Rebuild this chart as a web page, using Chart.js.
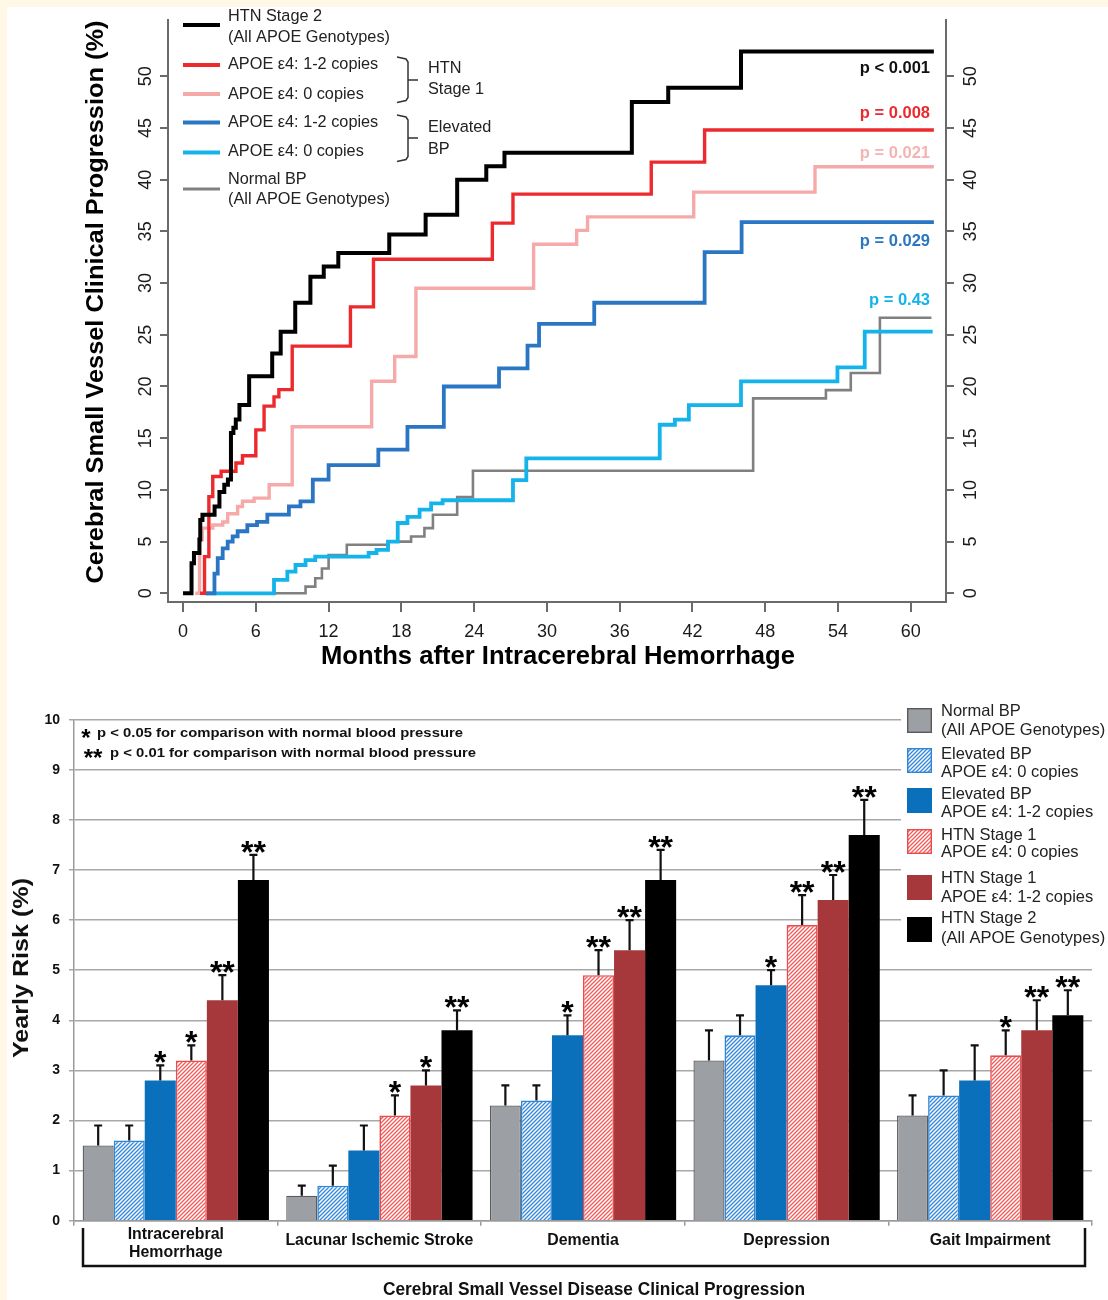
<!DOCTYPE html>
<html><head><meta charset="utf-8">
<script src="https://cdn.jsdelivr.net/npm/chart.js@4.4.1/dist/chart.umd.min.js"></script>
<style>
html,body{margin:0;padding:0;background:#FFF8E6;width:1108px;height:1300px;overflow:hidden;}
#wrap{position:absolute;left:7px;top:7px;width:1101px;height:1293px;background:#fff;}
#c1{position:absolute;left:0;top:0;width:1108px;height:680px;}
#c2{position:absolute;left:0;top:680px;width:1108px;height:620px;}
</style></head><body>
<div id="wrap"></div>
<canvas id="c1" width="1108" height="680"></canvas>
<canvas id="c2" width="1108" height="620"></canvas>
<script>
// ---------------- DATA: Kaplan-Meier curves (months, cumulative %) ----------------
const monthTicks = [0, 6, 12, 18, 24, 30, 36, 42, 48, 54, 60];
const pctTicks = [0, 5, 10, 15, 20, 25, 30, 35, 40, 45, 50];

const htn2Months = [0, 0.7, 0.9, 1.35, 1.42, 1.6, 2.6, 3.0, 3.4, 3.7, 3.95, 4.15, 4.35, 4.65, 5.45, 7.35, 8.05, 9.25, 10.5, 11.6, 12.8, 17.0, 20.0, 22.6, 25.0, 26.5, 37.0, 40.0, 46.0, 61.9];
const htn2Pct    = [0, 2.9, 3.9, 5.2, 7.1, 7.6, 8.4, 9.8, 10.5, 11.0, 15.5, 16.0, 16.8, 18.2, 21.0, 23.2, 25.3, 28.1, 30.6, 31.6, 32.9, 34.7, 36.6, 40.0, 41.3, 42.6, 47.5, 48.9, 52.4, 52.4];

const htn1E4Months = [1.4, 1.77, 2.13, 2.45, 3.14, 4.36, 4.9, 6.0, 6.68, 7.5, 7.9, 9.0, 13.8, 15.7, 25.5, 27.2, 38.6, 43.0, 61.9];
const htn1E4Pct    = [0, 3.55, 9.35, 11.3, 11.8, 12.6, 13.3, 15.8, 18.1, 19.0, 19.7, 23.9, 27.7, 32.3, 35.8, 38.6, 41.7, 44.8, 44.8];

const htn1NoE4Months = [1.0, 1.36, 1.58, 2.45, 3.27, 3.68, 4.5, 4.9, 5.86, 7.1, 9.0, 15.55, 17.45, 19.2, 28.9, 32.45, 33.35, 42.1, 52.1, 61.9];
const htn1NoE4Pct    = [0, 5.2, 6.3, 6.6, 6.9, 7.7, 8.4, 8.9, 9.2, 10.5, 16.1, 20.5, 22.9, 29.5, 33.75, 35.1, 36.4, 38.8, 41.25, 41.25];

const elevE4Months = [1.8, 2.59, 2.86, 3.27, 3.68, 4.09, 4.5, 5.3, 6.1, 6.95, 8.73, 9.68, 10.7, 12.0, 16.1, 18.5, 21.5, 26.05, 28.4, 29.35, 33.9, 43.0, 46.05, 61.9];
const elevE4Pct    = [0, 1.9, 3.4, 4.35, 5.0, 5.5, 6.0, 6.6, 6.9, 7.6, 8.4, 8.9, 11.0, 12.4, 13.9, 16.1, 20.0, 21.75, 23.95, 26.05, 28.1, 33.0, 35.9, 35.9];

const elevNoE4Months = [1.9, 7.5, 8.6, 9.27, 10.1, 10.9, 15.3, 15.95, 16.9, 17.7, 18.5, 19.5, 20.45, 21.4, 27.2, 28.3, 39.3, 40.55, 41.7, 46.0, 53.95, 56.2, 61.8];
const elevNoE4Pct    = [0, 1.3, 2.1, 2.74, 3.2, 3.55, 3.9, 4.2, 5.0, 6.8, 7.4, 8.1, 8.7, 9.0, 10.95, 13.05, 16.3, 16.8, 18.2, 20.5, 21.85, 25.3, 25.3];

const normalMonths = [2.0, 10.1, 10.9, 11.45, 12.0, 13.5, 16.9, 18.8, 19.9, 20.6, 22.6, 23.9, 47.0, 53.0, 55.05, 57.45, 61.7];
const normalPct    = [0, 0.65, 1.45, 2.4, 3.7, 4.7, 5.0, 5.5, 6.3, 7.6, 9.3, 11.85, 18.85, 19.65, 21.3, 26.65, 26.65];

const curveLabels = [
  ['HTN Stage 2', '(All APOE Genotypes)'],
  ['APOE \u03b54: 1-2 copies'],
  ['APOE \u03b54: 0 copies'],
  ['APOE \u03b54: 1-2 copies'],
  ['APOE \u03b54: 0 copies'],
  ['Normal BP', '(All APOE Genotypes)']
];
const curvePValues = ['p < 0.001', 'p = 0.008', 'p = 0.021', 'p = 0.029', 'p = 0.43'];

// ---------------- DATA: yearly risk bars ----------------
const categories = [['Intracerebral', 'Hemorrhage'], 'Lacunar Ischemic Stroke', 'Dementia', 'Depression', 'Gait Impairment'];
const riskTicks = [0, 1, 2, 3, 4, 5, 6, 7, 8, 9, 10];

const riskNormal    = [1.5, 0.5, 2.3, 3.2, 2.1];
const riskNormalErr = [1.9, 0.7, 2.7, 3.8, 2.5];
const riskElevNoE4    = [1.6, 0.7, 2.4, 3.7, 2.5];
const riskElevNoE4Err = [1.9, 1.1, 2.7, 4.1, 3.0];
const riskElevE4    = [2.8, 1.4, 3.7, 4.7, 2.8];
const riskElevE4Err = [3.1, 1.9, 4.1, 5.0, 3.5];
const riskHtn1NoE4    = [3.2, 2.1, 4.9, 5.9, 3.3];
const riskHtn1NoE4Err = [3.5, 2.5, 5.4, 6.5, 3.8];
const riskHtn1E4    = [4.4, 2.7, 5.4, 6.4, 3.8];
const riskHtn1E4Err = [4.9, 3.0, 6.0, 6.9, 4.4];
const riskHtn2    = [6.8, 3.8, 6.8, 7.7, 4.1];
const riskHtn2Err = [7.3, 4.2, 7.4, 8.4, 4.6];

const sigNormal    = ['', '', '', '', ''];
const sigElevNoE4  = ['', '', '', '', ''];
const sigElevE4    = ['*', '', '*', '*', ''];
const sigHtn1NoE4  = ['*', '*', '**', '**', '*'];
const sigHtn1E4    = ['**', '*', '**', '**', '**'];
const sigHtn2      = ['**', '**', '**', '**', '**'];

const barLabels = [
  ['Normal BP', '(All APOE Genotypes)'],
  ['Elevated BP', 'APOE \u03b54: 0 copies'],
  ['Elevated BP', 'APOE \u03b54: 1-2 copies'],
  ['HTN Stage 1', 'APOE \u03b54: 0 copies'],
  ['HTN Stage 1', 'APOE \u03b54: 1-2 copies'],
  ['HTN Stage 2', '(All APOE Genotypes)']
];
const sigNotes = ['p < 0.05 for comparison with normal blood pressure', 'p < 0.01 for comparison with normal blood pressure'];

// ---------------- helpers ----------------
const FONT = "'Liberation Sans', Arial, sans-serif";
Chart.defaults.font.family = FONT;

function txt(ctx, s, x, y, o) {
  ctx.save();
  ctx.font = o.font;
  ctx.fillStyle = o.color || '#000';
  ctx.textBaseline = o.baseline || 'middle';
  ctx.textAlign = 'left';
  const w = ctx.measureText(s).width;
  const sx = o.width ? o.width / w : (o.sx || 1);
  ctx.translate(x, y);
  if (o.rot) ctx.rotate(o.rot);
  ctx.scale(sx, 1);
  const ax = o.align === 'center' ? -w / 2 : (o.align === 'right' ? -w : 0);
  ctx.fillText(s, ax, 0);
  ctx.restore();
  return w * sx;
}
function pts(xs, ys) { return xs.map((x, i) => ({ x: x, y: ys[i] })); }
function fixTicks(arr) { return s => { s.ticks = arr.map(v => ({ value: v })); }; }

// ---------------- TOP CHART ----------------
const curveColors = ['#000000', '#EC2A2E', '#F5AAA9', '#2A76C3', '#14B3EA', '#808080'];
const curveWidths = [4, 3.4, 3.4, 3.8, 3.8, 2.6];
const curveSeries = [
  pts(htn2Months, htn2Pct), pts(htn1E4Months, htn1E4Pct), pts(htn1NoE4Months, htn1NoE4Pct),
  pts(elevE4Months, elevE4Pct), pts(elevNoE4Months, elevNoE4Pct), pts(normalMonths, normalPct)
];

const topDecor = {
  id: 'topDecor',
  afterDraw(chart) {
    const ctx = chart.ctx, yL = chart.scales.y, yR = chart.scales.y2, a = chart.chartArea;
    pctTicks.forEach(v => {
      txt(ctx, String(v), a.left - 22, yL.getPixelForValue(v), { font: '18px ' + FONT, align: 'center', rot: -Math.PI / 2, color: '#1a1a1a' });
      txt(ctx, String(v), a.right + 25, yR.getPixelForValue(v), { font: '18px ' + FONT, align: 'center', rot: -Math.PI / 2, color: '#1a1a1a' });
    });
    txt(ctx, 'Cerebral Small Vessel Clinical Progression (%)', 96, 302, { font: 'bold 24px ' + FONT, align: 'center', rot: -Math.PI / 2, width: 563 });
    txt(ctx, 'Months after Intracerebral Hemorrhage', 558, 657, { font: 'bold 25px ' + FONT, align: 'center', width: 474 });

    // legend
    const lineY = [25, 65, 94, 122.5, 152.5, 189];
    const textY = [[17, 37.5], [65], [94.5], [122.5], [152], [179.5, 200]];
    curveLabels.forEach((lab, i) => {
      ctx.save(); ctx.strokeStyle = curveColors[i]; ctx.lineWidth = i === 5 ? 3 : 4;
      ctx.beginPath(); ctx.moveTo(183, lineY[i]); ctx.lineTo(220, lineY[i]); ctx.stroke(); ctx.restore();
      lab.forEach((s, k) => txt(ctx, s, 228, textY[i][k], { font: '16.3px ' + FONT, color: '#222' }));
    });
    ctx.save(); ctx.strokeStyle = '#333'; ctx.lineWidth = 1.5;
    [[57, 80, 102.5], [115, 138, 161.5]].forEach(b => {
      ctx.beginPath(); ctx.moveTo(397, b[0]); ctx.lineTo(406, b[0] + 2); ctx.lineTo(408, b[0] + 5);
      ctx.lineTo(408, b[2] - 5); ctx.lineTo(406, b[2] - 2); ctx.lineTo(397, b[2]);
      ctx.moveTo(408, b[1]); ctx.lineTo(418, b[1]); ctx.stroke();
    });
    ctx.restore();
    txt(ctx, 'HTN', 428, 68.5, { font: '16.3px ' + FONT, color: '#222' });
    txt(ctx, 'Stage 1', 428, 89.5, { font: '16.3px ' + FONT, color: '#222' });
    txt(ctx, 'Elevated', 428, 127.5, { font: '16.3px ' + FONT, color: '#222' });
    txt(ctx, 'BP', 428, 149.5, { font: '16.3px ' + FONT, color: '#222' });

    const pY = [68.5, 113.5, 153.5, 241.5, 300];
    const pC = ['#111', '#EC2A2E', '#F5B3B2', '#2A76C3', '#14B3EA'];
    curvePValues.forEach((s, i) => txt(ctx, s, 930, pY[i], { font: 'bold 16.5px ' + FONT, align: 'right', color: pC[i] }));
  }
};

new Chart(document.getElementById('c1'), {
  type: 'line',
  data: {
    datasets: curveSeries.map((d, i) => ({
      data: d, borderColor: curveColors[i], borderWidth: curveWidths[i], stepped: 'before',
      pointRadius: 0, fill: false, borderJoinStyle: 'miter', borderCapStyle: 'butt'
    }))
  },
  options: {
    responsive: false, animation: false, events: [],
    layout: { padding: { top: 20, left: 0, right: 0, bottom: 0 } },
    plugins: { legend: { display: false }, tooltip: { enabled: false } },
    scales: {
      x: {
        type: 'linear', min: -1.24, max: 62.9, position: 'bottom',
        afterBuildTicks: fixTicks(monthTicks), afterFit: s => { s.height = 78; },
        grid: { drawOnChartArea: false, tickLength: 10, color: '#6a6a6a', lineWidth: 2 },
        border: { display: true, color: '#6a6a6a', width: 2 },
        ticks: { font: { size: 18, family: FONT }, color: '#1a1a1a', padding: 9, maxRotation: 0, autoSkip: false }
      },
      y: {
        type: 'linear', min: -0.84, max: 55.44, position: 'left',
        afterBuildTicks: fixTicks(pctTicks), afterFit: s => { s.width = 168; },
        grid: { drawOnChartArea: false, tickLength: 8, color: '#6a6a6a', lineWidth: 2 },
        border: { display: true, color: '#6a6a6a', width: 2 },
        ticks: { display: false }
      },
      y2: {
        type: 'linear', min: -0.84, max: 55.44, position: 'right',
        afterBuildTicks: fixTicks(pctTicks), afterFit: s => { s.width = 162; },
        grid: { drawOnChartArea: false, tickLength: 8, color: '#6a6a6a', lineWidth: 2 },
        border: { display: true, color: '#6a6a6a', width: 2 },
        ticks: { display: false }
      }
    }
  },
  plugins: [topDecor]
});

// ---------------- BOTTOM CHART ----------------
const c2 = document.getElementById('c2');
const c2ctx = c2.getContext('2d');
function hatch(color) {
  const t = document.createElement('canvas'); t.width = 4; t.height = 4;
  const g = t.getContext('2d');
  g.fillStyle = '#fff'; g.fillRect(0, 0, 4, 4);
  g.strokeStyle = color; g.lineWidth = 1.35;
  g.beginPath();
  g.moveTo(-1, 5); g.lineTo(5, -1);
  g.moveTo(-1, 1); g.lineTo(1, -1);
  g.moveTo(3, 5); g.lineTo(5, 3);
  g.stroke();
  return c2ctx.createPattern(t, 'repeat');
}
const blueHatch = hatch('#3489DA');
const pinkHatch = hatch('#EE5E5E');

const barFills = ['#9C9FA3', blueHatch, '#0B70BC', pinkHatch, '#A6373A', '#000000'];
const barBorders = ['#5a5a5a', '#2F86D6', '#0B70BC', '#EA4B4B', '#A6373A', '#000000'];
const barBorderW = [1.3, 1.6, 0, 1.6, 0, 0];
const barValues = [riskNormal, riskElevNoE4, riskElevE4, riskHtn1NoE4, riskHtn1E4, riskHtn2];
const barErrors = [riskNormalErr, riskElevNoE4Err, riskElevE4Err, riskHtn1NoE4Err, riskHtn1E4Err, riskHtn2Err];
const barSigs = [sigNormal, sigElevNoE4, sigElevE4, sigHtn1NoE4, sigHtn1E4, sigHtn2];

function drawStars(ctx, s, cx, cy, size) {
  ctx.save();
  ctx.font = 'bold ' + size + 'px ' + FONT;
  ctx.textAlign = 'center'; ctx.textBaseline = 'alphabetic'; ctx.fillStyle = '#000';
  const m = ctx.measureText('*');
  const base = cy + (m.actualBoundingBoxAscent - m.actualBoundingBoxDescent) / 2;
  ctx.fillText(s, cx, base);
  ctx.restore();
}

const barDecor = {
  id: 'barDecor',
  afterDatasetsDraw(chart) {
    const ctx = chart.ctx, y = chart.scales.y;
    chart.data.datasets.forEach((ds, i) => {
      chart.getDatasetMeta(i).data.forEach((bar, j) => {
        const top = y.getPixelForValue(ds.errTop[j]);
        ctx.save(); ctx.strokeStyle = '#111'; ctx.lineWidth = 2.2;
        ctx.beginPath(); ctx.moveTo(bar.x, bar.y); ctx.lineTo(bar.x, top);
        ctx.moveTo(bar.x - 4, top); ctx.lineTo(bar.x + 4, top); ctx.stroke(); ctx.restore();
        if (ds.sig[j]) drawStars(ctx, ds.sig[j], bar.x, top - 8, 32);
      });
    });
  },
  afterDraw(chart) {
    const ctx = chart.ctx, x = chart.scales.x;
    // category labels
    ctx.save(); ctx.font = 'bold 17px ' + FONT;
    const sx = 188 / ctx.measureText('Lacunar Ischemic Stroke').width; ctx.restore();
    categories.forEach((c, i) => {
      const px = x.getPixelForValue(i);
      if (Array.isArray(c)) {
        txt(ctx, c[0], px, 554, { font: 'bold 17px ' + FONT, align: 'center', sx: sx, color: '#111' });
        txt(ctx, c[1], px, 572.5, { font: 'bold 17px ' + FONT, align: 'center', sx: sx, color: '#111' });
      } else {
        txt(ctx, c, px, 560, { font: 'bold 17px ' + FONT, align: 'center', sx: sx, color: '#111' });
      }
    });
    // bracket
    ctx.save(); ctx.strokeStyle = '#111'; ctx.lineWidth = 2.5;
    ctx.beginPath(); ctx.moveTo(83, 548); ctx.lineTo(83, 586); ctx.lineTo(1085, 586); ctx.lineTo(1085, 548); ctx.stroke();
    ctx.restore();
    txt(ctx, 'Cerebral Small Vessel Disease Clinical Progression', 594, 610, { font: 'bold 18px ' + FONT, align: 'center', width: 422, color: '#111' });
    txt(ctx, 'Yearly Risk (%)', 22, 288, { font: 'bold 22px ' + FONT, align: 'center', rot: -Math.PI / 2, width: 180, color: '#111' });

    // significance notes
    drawStars(ctx, '*', 86, 53.5, 24);
    txt(ctx, sigNotes[0], 97, 53.5, { font: 'bold 13px ' + FONT, width: 366, color: '#111' });
    drawStars(ctx, '**', 93, 73.5, 24);
    txt(ctx, sigNotes[1], 110, 73.5, { font: 'bold 13px ' + FONT, width: 366, color: '#111' });

    // legend box
    ctx.save(); ctx.fillStyle = '#fff'; ctx.fillRect(901, 18, 207, 252); ctx.restore();
    const sqTop = [28, 68, 108, 149, 195, 237];
    const tY = [[31, 50], [74, 92.5], [114, 132], [155, 172], [198, 217], [238, 258]];
    barLabels.forEach((lab, i) => {
      ctx.save();
      ctx.fillStyle = barFills[i];
      ctx.fillRect(907, sqTop[i], 25, 25);
      if (barBorderW[i] > 0) { ctx.strokeStyle = barBorders[i]; ctx.lineWidth = 1.4; ctx.strokeRect(907.7, sqTop[i] + 0.7, 23.6, 23.6); }
      ctx.restore();
      lab.forEach((s, k) => txt(ctx, s, 941, tY[i][k], { font: '16.5px ' + FONT, color: '#222' }));
    });
  }
};

new Chart(c2, {
  type: 'bar',
  data: {
    labels: categories,
    datasets: barValues.map((v, i) => ({
      data: v, errTop: barErrors[i], sig: barSigs[i],
      backgroundColor: barFills[i], borderColor: barBorders[i], borderWidth: barBorderW[i],
      categoryPercentage: 0.915, barPercentage: 1.0
    }))
  },
  options: {
    responsive: false, animation: false, events: [],
    layout: { padding: { top: 39.7, left: 0, right: 16, bottom: 0 } },
    plugins: { legend: { display: false }, tooltip: { enabled: false } },
    scales: {
      x: {
        afterFit: s => { s.height = 79.3; },
        grid: { drawOnChartArea: false, tickLength: 5, color: '#9a9a9a', lineWidth: 1.5, offset: true },
        border: { display: true, color: '#9a9a9a', width: 1.5 },
        ticks: { display: false }
      },
      y: {
        min: 0, max: 10, afterBuildTicks: fixTicks(riskTicks), afterFit: s => { s.width = 74; },
        grid: { color: '#a8a8a8', lineWidth: 1.5, tickLength: 5 },
        border: { display: true, color: '#9a9a9a', width: 1.5 },
        ticks: { font: { size: 14, weight: 'bold', family: FONT }, color: '#111', padding: 9 }
      }
    }
  },
  plugins: [barDecor]
});
</script>
</body></html>
